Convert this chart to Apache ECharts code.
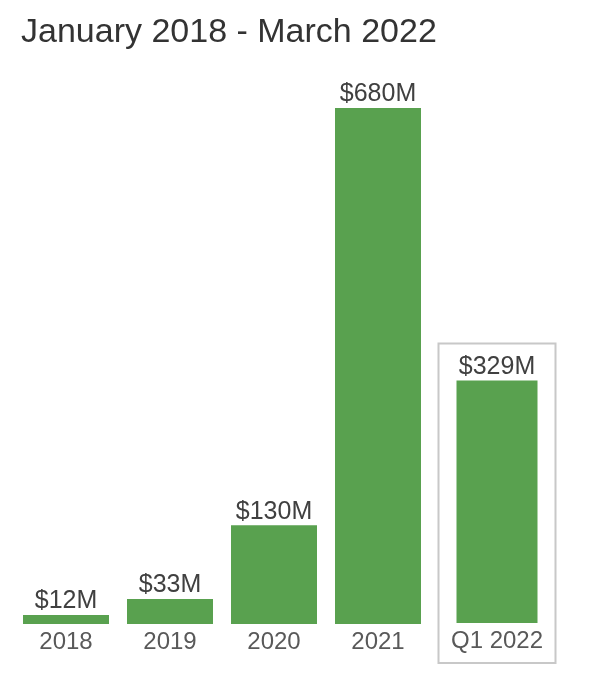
<!DOCTYPE html>
<html><head><meta charset="utf-8">
<script src="https://cdn.jsdelivr.net/npm/echarts@6/dist/echarts.min.js"></script>
<style>html,body{margin:0;padding:0;background:#fff}#c{width:600px;height:675px}</style>
</head><body><div id="c"></div>
<script>
const titleText = 'January 2018 - March 2022';
const yearCategories = ['2018', '2019', '2020', '2021'];
const yearValues = [12, 33, 130, 680];
const quarterCategories = ['Q1 2022'];
const quarterValues = [329];

const FONT = '"Liberation Sans", Arial, sans-serif';
const GREEN = '#59a14f';
const fmt = p => '$' + p.value + 'M';

const chart = echarts.init(document.getElementById('c'), null, {renderer: 'canvas'});
const labelCommon = {show: true, position: 'top', distance: 1, formatter: fmt,
  color: '#404040', fontSize: 25, fontFamily: FONT};
const axisLabelCommon = {color: '#595959', fontSize: 24, fontFamily: FONT, margin: 6};
chart.setOption({
  animation: false,
  title: {text: titleText, left: 16, top: 11,
    textStyle: {color: '#333', fontSize: 34, fontWeight: 'normal', fontFamily: FONT}},
  grid: [
    {left: 14, right: 170, top: 108, bottom: 51},
    {left: 445, right: 51, top: 108, bottom: 52}
  ],
  xAxis: [
    {type: 'category', gridIndex: 0, data: yearCategories, axisLine: {show: false},
     axisTick: {show: false}, axisLabel: axisLabelCommon},
    {type: 'category', gridIndex: 1, data: quarterCategories, axisLine: {show: false},
     axisTick: {show: false}, axisLabel: axisLabelCommon}
  ],
  yAxis: [
    {type: 'value', gridIndex: 0, min: 0, max: 680, show: false},
    {type: 'value', gridIndex: 1, min: 0, max: 699, show: false}
  ],
  series: [
    {type: 'bar', xAxisIndex: 0, yAxisIndex: 0, data: yearValues, barWidth: 86,
     itemStyle: {color: GREEN}, label: labelCommon},
    {type: 'bar', xAxisIndex: 1, yAxisIndex: 1, data: quarterValues, barWidth: 81,
     itemStyle: {color: GREEN}, label: labelCommon}
  ]
});
const topPt = chart.convertToPixel({xAxisIndex: 1, yAxisIndex: 1}, [quarterCategories[0], quarterValues[0]]);
const basePt = chart.convertToPixel({xAxisIndex: 1, yAxisIndex: 1}, [quarterCategories[0], 0]);
chart.setOption({
  graphic: [{type: 'rect', z: -1,
    shape: {x: topPt[0] - 58.5, y: topPt[1] - 37, width: 117, height: basePt[1] - topPt[1] + 37 + 40},
    style: {fill: 'none', stroke: '#c8c8c8', lineWidth: 2}}]
});
</script></body></html>
